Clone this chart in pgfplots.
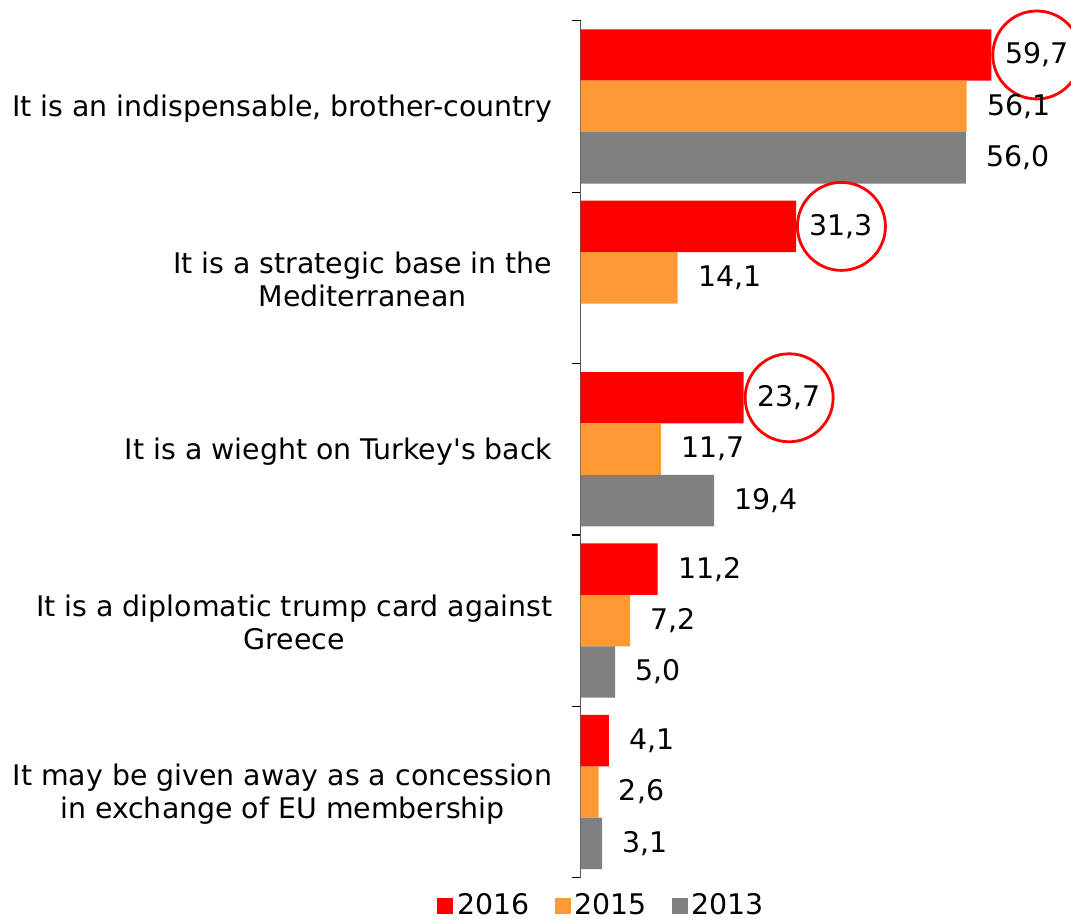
\documentclass[border=0pt]{standalone}
\usepackage{pgfplots}
\pgfplotsset{compat=1.18}
\usepackage{fontspec}
\setmainfont{DejaVu Sans}
\definecolor{c16}{HTML}{FF0000}
\definecolor{c15}{HTML}{FF9933}
\definecolor{c13}{HTML}{808080}
\newcommand{\fs}{\fontsize{14.2pt}{16.6pt}\selectfont}
\begin{document}
\fs
\begin{tikzpicture}
\begin{axis}[
  name=ax,
  xbar,
  scale only axis,
  width=244.24pt, height=428.5pt,
  xmin=0, xmax=71,
  ymin=-0.5, ymax=4.5,
  y dir=reverse,
  clip=false,
  axis y line*=left,
  axis x line=none,
  xtick=\empty,
  ytick={0,1,2,3,4},
  yticklabels={{It is an indispensable, brother-country},{It is a strategic base in the\\Mediterranean},{It is a wieght on Turkey\textquotesingle s back},{It is a diplomatic trump card against\\Greece},{It may be given away as a concession\\in exchange of EU membership}},
  yticklabel style={align=center, inner sep=0pt, xshift=-14pt, yshift=-1pt, font=\fs},
  major tick length=0pt,
  minor ytick={-0.5,0.5,1.5,2.5,3.5,4.5},
  minor tick length=4.5pt,
  tick align=outside,
  minor tick style={black, line width=0.6pt},
  y axis line style={draw=gray!70!black, line width=0.8pt},
  /pgf/number format/.cd, fixed, fixed zerofill, precision=1, use comma, assume math mode=true,
  /pgfplots/.cd,
  bar width=0.3,
  point meta=x,
  nodes near coords,
  nodes near coords style={font=\fs, text=black},
  legend style={draw=none, legend columns=3, at={(axis description cs:0.045,-0.0327)}, anchor=center, font=\fs,
    /tikz/every even column/.append style={column sep=10.5pt}},
  legend image code/.code={\fill[#1] (0pt,-4pt) rectangle (8pt,4pt);},
]
\addplot[fill=c16, draw=none, bar shift=-0.3,
  every node near coord/.append style={circle, draw=c16, line width=1.4pt, minimum size=44pt, inner sep=0pt, anchor=west}]
  coordinates {(59.7,0) (31.3,1) (23.7,2)};
\addlegendentry{2016}
\addplot[fill=c15, draw=none, bar shift=0,
  every node near coord/.append style={anchor=west, inner sep=0pt, xshift=10pt}]
  coordinates {(56.1,0) (14.1,1) (11.7,2) (7.2,3) (2.6,4)};
\addlegendentry{2015}
\addplot[fill=c13, draw=none, bar shift=0.3,
  every node near coord/.append style={anchor=west, inner sep=0pt, xshift=10pt}]
  coordinates {(56.0,0) (19.4,2) (5.0,3) (3.1,4)};
\addlegendentry{2013}
\addplot[fill=c16, draw=none, bar shift=-0.3, forget plot,
  every node near coord/.append style={anchor=west, inner sep=0pt, xshift=10pt}]
  coordinates {(11.2,3) (4.1,4)};
\end{axis}
\pgfresetboundingbox
\path[use as bounding box] ([shift={(-290.35pt,-20.65pt)}]ax.south west) rectangle ([shift={(245.15pt,438.85pt)}]ax.south west);
\end{tikzpicture}
\end{document}
